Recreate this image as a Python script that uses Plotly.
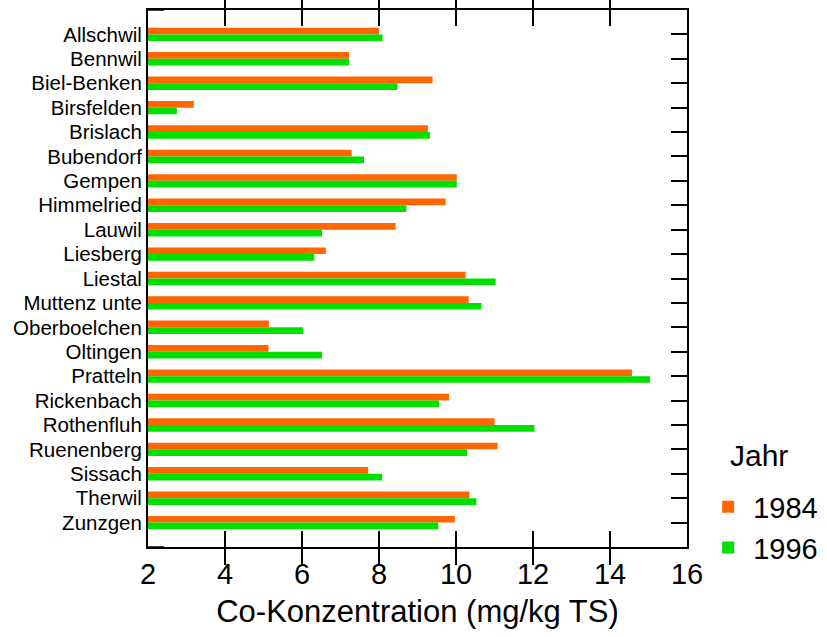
import plotly.graph_objects as go

# Gemeinden (Standorte) und Co-Gehalte in mg/kg TS
standorte = [
    "Allschwil", "Bennwil", "Biel-Benken", "Birsfelden", "Brislach",
    "Bubendorf", "Gempen", "Himmelried", "Lauwil", "Liesberg", "Liestal",
    "Muttenz unte", "Oberboelchen", "Oltingen", "Pratteln", "Rickenbach",
    "Rothenfluh", "Ruenenberg", "Sissach", "Therwil", "Zunzgen",
]
co_1984 = [8.0, 7.22, 9.39, 3.19, 9.27, 7.29, 10.02, 9.73, 8.43, 6.62, 10.25,
           10.33, 5.14, 5.13, 14.57, 9.82, 11.0, 11.08, 7.72, 10.35, 9.97]
co_1996 = [8.09, 7.22, 8.48, 2.75, 9.32, 7.61, 10.02, 8.71, 6.52, 6.32, 11.03,
           10.66, 6.03, 6.52, 15.04, 9.56, 12.04, 10.29, 8.08, 10.53, 9.54]
x_ticks = [2, 4, 6, 8, 10, 12, 14, 16]

FONT = "Liberation Sans, Arial, sans-serif"
W, H = 827, 637
M = dict(l=148, r=140, t=10, b=90)
PLOT_W = W - M["l"] - M["r"]
TICK_LEN = 16

pos = list(range(len(standorte)))
y_range = [len(standorte), -1]
x_range = [x_ticks[0], x_ticks[-1]]

fig = go.Figure()
fig.add_trace(go.Bar(name="1984", x=co_1984, y=pos, orientation="h",
                     marker=dict(color="#FF6600", line=dict(width=0))))
fig.add_trace(go.Bar(name="1996", x=co_1996, y=pos, orientation="h",
                     marker=dict(color="#00E000", line=dict(width=0))))

# empty helper trace so the right-hand tick axis gets drawn
fig.add_trace(go.Scatter(x=[None], y=[None], yaxis="y2", mode="markers",
                         showlegend=False, hoverinfo="skip"))

# corner ticks on the left frame edge
tx = TICK_LEN / PLOT_W
shapes = [dict(type="line", xref="x domain", yref="y domain",
               x0=0, x1=tx, y0=yd, y1=yd,
               line=dict(color="black", width=1.5)) for yd in (0, 1)]

fig.update_layout(
    width=W, height=H,
    margin=dict(**M, autoexpand=False),
    paper_bgcolor="white", plot_bgcolor="white",
    barmode="group", bargap=0.45, bargroupgap=0,
    font=dict(family=FONT, color="black"),
    xaxis=dict(
        range=x_range, tickmode="array", tickvals=x_ticks,
        ticks="inside", ticklen=TICK_LEN, tickwidth=2, tickcolor="#000000",
        showgrid=False, zeroline=False,
        showline=True, linecolor="black", linewidth=2, mirror="allticks",
        tickfont=dict(size=29),
        title=dict(text="Co-Konzentration (mg/kg TS)", font=dict(size=31),
                   standoff=12),
    ),
    yaxis=dict(
        range=y_range, tickvals=pos, ticktext=standorte, ticks="",
        showgrid=False, zeroline=False, showline=True, linecolor="black",
        linewidth=2, mirror=True, tickfont=dict(size=20.5),
    ),
    # right-hand axis carrying the category ticks
    yaxis2=dict(overlaying="y", side="right", anchor="x", range=y_range,
                tickvals=list(range(-1, len(standorte) + 1)),
                ticks="inside", ticklen=TICK_LEN, tickwidth=1.5,
                tickcolor="black", showticklabels=False, showgrid=False,
                zeroline=False, showline=False),
    shapes=shapes,
    legend=dict(
        x=1.03, xanchor="left", y=0.122, yanchor="top",
        font=dict(size=29), bgcolor="rgba(0,0,0,0)", itemwidth=40,
    ),
    annotations=[dict(text="Jahr", x=1.076, xanchor="left", y=0.171,
                      yanchor="middle", xref="paper", yref="paper",
                      showarrow=False, font=dict(size=30))],
    showlegend=True,
)

fig.write_html("out.html")
